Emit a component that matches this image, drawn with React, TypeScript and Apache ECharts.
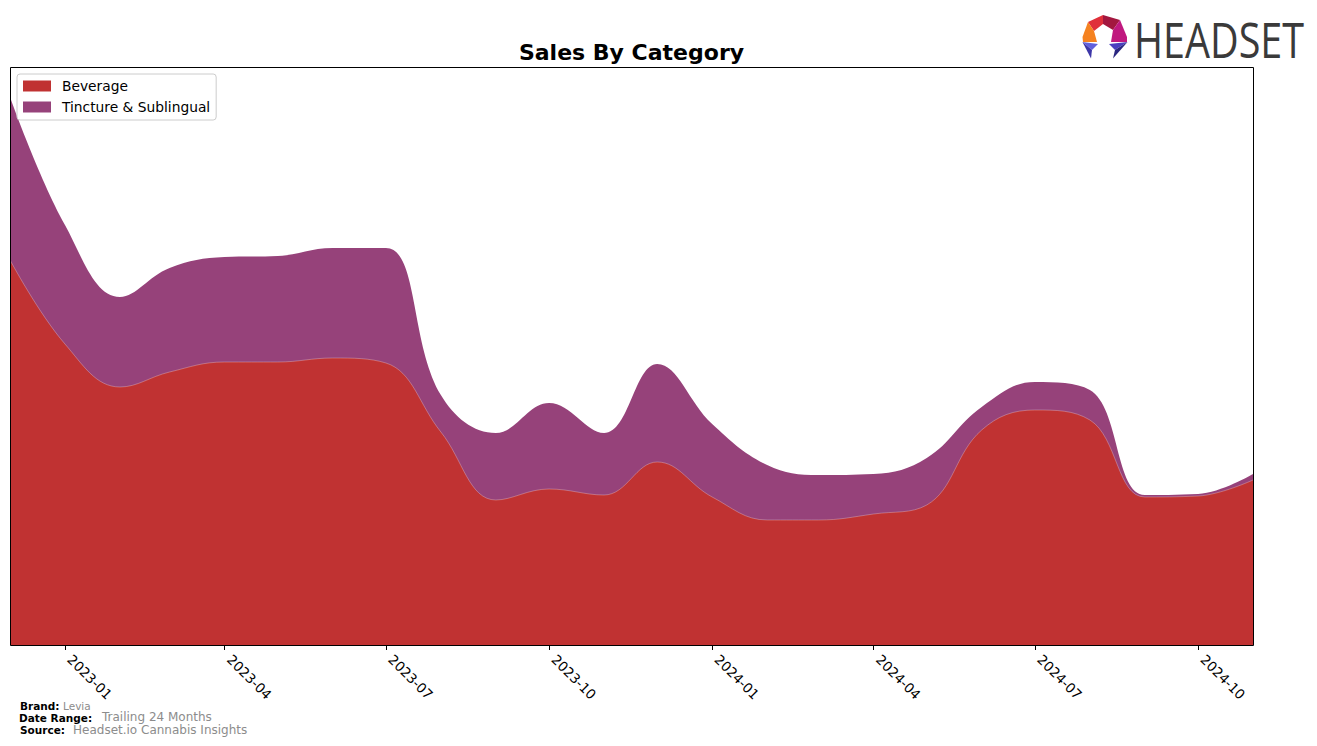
import React, { useEffect, useRef } from "react";
import * as echarts from "echarts";

const months = [
  "2022-12-01", "2023-01-01", "2023-02-01", "2023-03-01", "2023-04-01", "2023-05-01",
  "2023-06-01", "2023-07-01", "2023-08-01", "2023-09-01", "2023-10-01", "2023-11-01",
  "2023-12-01", "2024-01-01", "2024-02-01", "2024-03-01", "2024-04-01", "2024-05-01",
  "2024-06-01", "2024-07-01", "2024-08-01", "2024-09-01", "2024-10-01", "2024-11-01",
];
const beverage = [385, 301, 258, 273, 283, 283, 287, 282, 213, 145, 156, 150, 183, 148, 125, 125, 131, 140, 215, 235, 225, 148, 149, 165];
const tincture = [163, 119, 90, 104, 105, 106, 110, 115, 37, 67, 86, 62, 98, 73, 55, 45, 40, 47, 23, 28, 30, 2, 2, 6];
const tickDates = ["2023-01-01", "2023-04-01", "2023-07-01", "2023-10-01", "2024-01-01", "2024-04-01", "2024-07-01", "2024-10-01"];
const tickLabels = ["2023-01", "2023-04", "2023-07", "2023-10", "2024-01", "2024-04", "2024-07", "2024-10"];

const DAY = 86400000;
const parseDay = (s: string) => {
  const [y, m, d] = s.split("-").map(Number);
  return Math.round(Date.UTC(y, m - 1, d) / DAY);
};

const FONT = "DejaVu Sans";
const RED = "#c03232";
const PURPLE = "#96427a";

export default function App() {
  const ref = useRef<HTMLDivElement>(null);
  useEffect(() => {
    if (!ref.current) return;
    const chart = echarts.init(ref.current, null, { renderer: "svg" });
    const ts = months.map(parseDay);
    const tickTs = tickDates.map(parseDay);
    // stacked top of the second layer, built from the two series arrays
    const stackedTop = beverage.map((b, i) => b + tincture[i]);
    const txt = (text: string, x: number, y: number, font: string, fill: string, align = "left") => ({
      type: "text",
      x,
      y,
      z: 100,
      style: { text, font, fill, textAlign: align, align, textVerticalAlign: "middle", verticalAlign: "middle" },
    });
    const poly = (points: number[][], fill: string) => ({
      type: "polygon",
      z: 100,
      shape: { points },
      style: { fill },
    });
    chart.setOption({
      animation: false,
      grid: { left: 10, top: 67, right: 64, bottom: 101 },
      legend: {
        left: 17,
        top: 74,
        orient: "vertical",
        icon: "rect",
        itemWidth: 28,
        itemHeight: 11,
        itemGap: 5,
        padding: [4, 6, 5, 6],
        borderColor: "#cccccc",
        borderWidth: 1,
        borderRadius: 3,
        backgroundColor: "rgba(255,255,255,0.8)",
        itemStyle: { borderWidth: 0 },
        textStyle: { fontFamily: FONT, fontSize: 13.8, color: "#000", lineHeight: 16, padding: [0, 0, 0, 6] },
        data: ["Beverage", "Tincture & Sublingual"],
      },
      xAxis: {
        type: "value",
        min: ts[0],
        max: ts[ts.length - 1],
        axisLine: { show: false },
        splitLine: { show: false },
        axisTick: { show: true, customValues: tickTs, length: 5, lineStyle: { color: "#000", width: 1 } },
        axisLabel: {
          customValues: tickTs,
          rotate: -45,
          margin: 17,
          align: "left",
          verticalAlign: "bottom",
          fontFamily: FONT,
          fontSize: 13.5,
          color: "#000",
          formatter: (v: number) => {
            const i = tickTs.indexOf(v);
            return i >= 0 ? tickLabels[i] : "";
          },
        },
      },
      yAxis: { type: "value", min: 0, max: 578, show: false },
      series: [
        {
          name: "Tincture & Sublingual",
          type: "line",
          smooth: 0.4,
          symbol: "none",
          z: 2,
          data: ts.map((t, i) => [t, stackedTop[i]]),
          itemStyle: { color: PURPLE },
          lineStyle: { width: 0, color: PURPLE },
          areaStyle: { color: PURPLE, opacity: 1 },
        },
        {
          name: "Beverage",
          type: "line",
          smooth: 0.4,
          symbol: "none",
          z: 3,
          data: ts.map((t, i) => [t, beverage[i]]),
          itemStyle: { color: RED },
          lineStyle: { width: 0.8, color: "rgba(255,255,255,0.35)" },
          areaStyle: { color: RED, opacity: 1 },
        },
      ],
      graphic: [
        {
          type: "rect",
          z: 100,
          shape: { x: 10.5, y: 67.5, width: 1243, height: 578 },
          style: { fill: "none", stroke: "#000", lineWidth: 1 },
        },
        txt("Sales By Category", 631.5, 52, `bold 22px ${FONT}`, "#000", "center"),
        txt("Brand:", 20, 705.5, `bold 10.5px ${FONT}`, "#000"),
        txt("Levia", 63, 705.5, `10.5px ${FONT}`, "#8c8c8c"),
        txt("Date Range:", 19, 717.5, `bold 10.5px ${FONT}`, "#000"),
        txt("Trailing 24 Months", 102, 717, `12px ${FONT}`, "#8c8c8c"),
        txt("Source:", 20, 729.5, `bold 10.5px ${FONT}`, "#000"),
        txt("Headset.io Cannabis Insights", 73, 729.5, `12px ${FONT}`, "#8c8c8c"),
        {
          type: "text",
          x: 1134,
          y: 38.5,
          z: 100,
          scaleX: 0.79,
          style: {
            text: "HEADSET",
            font: `50px "Open Sans"`,
            fill: "#3a3a3a",
            textAlign: "left",
            align: "left",
            textVerticalAlign: "middle",
            verticalAlign: "middle",
          },
        },
        poly([[1088, 22], [1103, 15], [1103, 24], [1094, 31]], "#e0303a"),
        poly([[1103, 15], [1120, 20], [1113, 30], [1103, 24]], "#a3173f"),
        poly([[1120, 20], [1127, 37], [1127, 42], [1111, 42], [1113, 30]], "#c0197f"),
        poly([[1088, 22], [1094, 31], [1097, 42], [1083, 42], [1082.5, 37]], "#f58220"),
        poly([[1082.5, 42], [1098, 44], [1092, 50]], "#6160dc"),
        poly([[1082.5, 42], [1092, 50], [1091, 58.5]], "#3d37a8"),
        poly([[1127.5, 42], [1109, 44], [1115, 50]], "#4a3fc0"),
        poly([[1127.5, 42], [1115, 50], [1113, 58.5]], "#2a2680"),
      ],
    });
    return () => chart.dispose();
  }, []);
  return <div ref={ref} style={{ position: "absolute", left: 0, top: 0, width: 1317, height: 746 }} />;
}
